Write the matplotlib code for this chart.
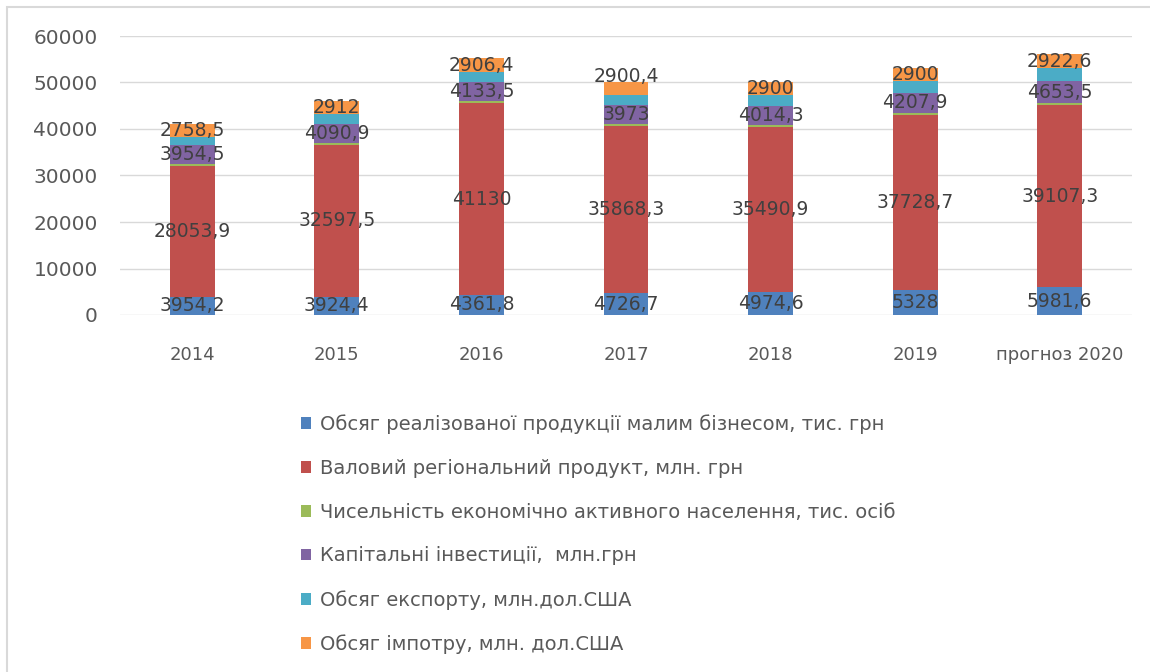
import numpy as np
import matplotlib
matplotlib.use('Agg')
import matplotlib.pyplot as plt
from matplotlib.patches import Patch, Rectangle

# --- Data
years = ['2014', '2015', '2016', '2017', '2018', '2019', 'прогноз 2020']
small_biz = [3954.2, 3924.4, 4361.8, 4726.7, 4974.6, 5328, 5981.6]
grp = [28053.9, 32597.5, 41130, 35868.3, 35490.9, 37728.7, 39107.3]
population = [500, 480, 520, 520, 500, 480, 480]          # no labels shown, estimated
investments = [3954.5, 4090.9, 4133.5, 3973, 4014.3, 4207.9, 4653.5]
export = [1850, 2100, 2150, 2200, 2290, 2540, 2900]       # no labels shown, estimated
imports = [2758.5, 2912, 2906.4, 2900.4, 2900, 2900, 2922.6]

series_names = [
    'Обсяг реалізованої продукції малим бізнесом, тис. грн',
    'Валовий регіональний продукт, млн. грн',
    'Чисельність економічно активного населення, тис. осіб',
    'Капітальні інвестиції,  млн.грн',
    'Обсяг експорту, млн.дол.США',
    'Обсяг імпотру, млн. дол.США',
]
colors = ['#4F81BD', '#C0504D', '#9BBB59', '#8064A2', '#4BACC6', '#F79646']
labelled = [True, True, False, True, False, True]

series = [small_biz, grp, population, investments, export, imports]

plt.rcParams['font.family'] = ['DejaVu Sans']

fig = plt.figure(figsize=(11.5, 6.72), dpi=100)
ax = fig.add_axes([120 / 1150, 1 - 315 / 672, 1012 / 1150, 279 / 672])

x = np.arange(len(years))
bottom = np.zeros(len(years))
width = 0.31
for vals, col, lab, name in zip(series, colors, labelled, series_names):
    vals = np.array(vals, dtype=float)
    ax.bar(x, vals, width, bottom=bottom, color=col, zorder=3)
    if lab:
        for i, v in enumerate(vals):
            yc = bottom[i] + v / 2
            # the 2017 import label sits above its bar in the reference
            if name.startswith('Обсяг імпотру') and years[i] == '2017':
                yc = bottom[i] + v + 1000
            ax.text(x[i], yc, f"{v:g}".replace('.', ','), ha='center', va='center',
                    fontsize=13.5, color='#404040', zorder=4)
    bottom += vals

ax.set_xlim(-0.5, len(years) - 0.5)
ax.set_ylim(0, 60000)
ax.set_yticks(np.arange(0, 60001, 10000))
ax.set_xticks(x)
ax.set_xticklabels(years)
ax.grid(axis='y', color='#D9D9D9', linewidth=1, zorder=0)
for s in ax.spines.values():
    s.set_visible(False)
ax.tick_params(axis='both', length=0, colors='#595959')
ax.tick_params(axis='x', pad=22, labelsize=13)
ax.tick_params(axis='y', pad=16, labelsize=14.5)

# chart frame
fig.patches.append(Rectangle((7 / 1150, -0.1), 1.2, (672 - 7) / 672 + 0.1,
                             transform=fig.transFigure, fill=False,
                             edgecolor='#D9D9D9', linewidth=1.5))

handles = [Patch(facecolor=c, edgecolor='none') for c in colors]
leg = fig.legend(handles, series_names, loc='upper left',
                 bbox_to_anchor=(283 / 1150, 1 - 397 / 672), frameon=False,
                 fontsize=14, labelcolor='#595959', handlelength=0.55,
                 handleheight=0.55, handletextpad=0.45, labelspacing=1.27)

fig.savefig('out.png', dpi=100)
